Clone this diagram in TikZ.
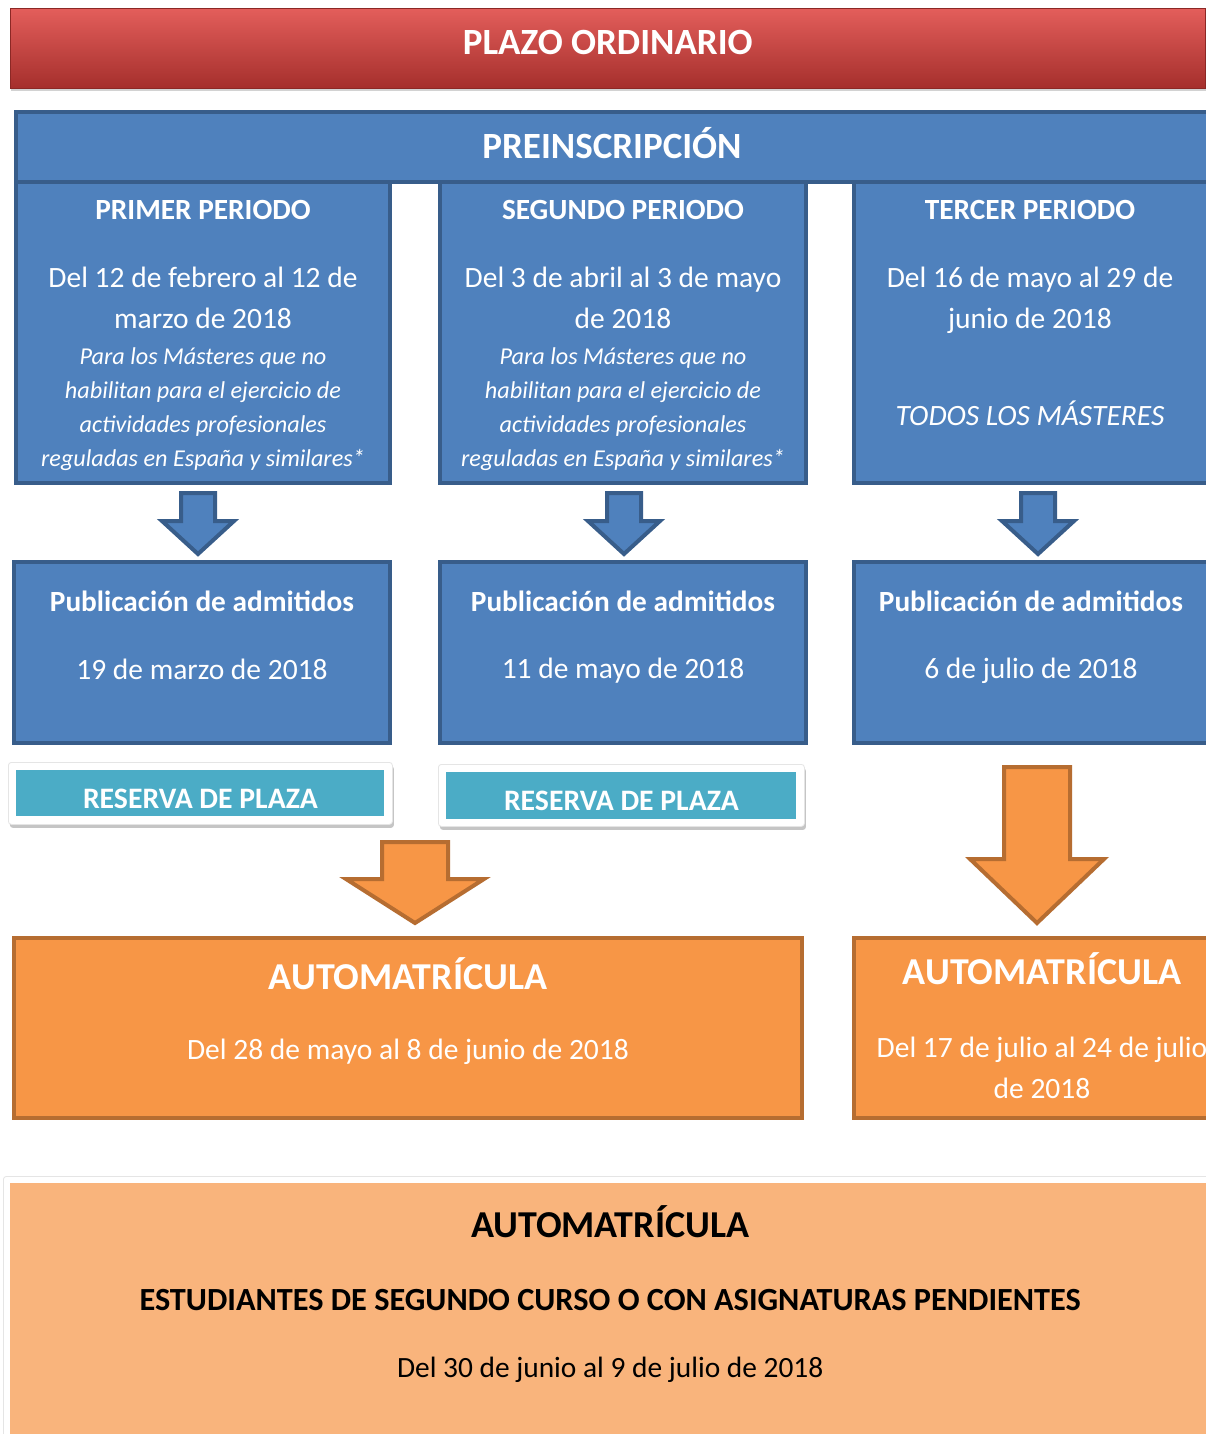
\documentclass[tikz,border=0pt]{standalone}
\usepackage{fontspec}
\setmainfont{Carlito}
\usetikzlibrary{calc, positioning, shadows}
\definecolor{bannerlight}{HTML}{E35E5B}
\definecolor{bannerred}{HTML}{D3423F}
\definecolor{bannerdark}{HTML}{A52F2C}
\definecolor{boxblue}{HTML}{4F81BD}
\definecolor{lineblue}{HTML}{385D8A}
\definecolor{reservefill}{HTML}{4BACC6}
\definecolor{boxorange}{HTML}{F79646}
\definecolor{lineorange}{HTML}{B66D31}
\definecolor{peachfill}{HTML}{F9B47C}
\tikzset{
  bluebox/.style={draw=lineblue, line width=4pt, fill=boxblue, anchor=north west, inner sep=0pt},
  orangebox/.style={draw=lineorange, line width=4pt, fill=boxorange, anchor=north west, inner sep=0pt},
  card/.style={fill=white, draw=black!10, line width=0.8pt, rounded corners=3pt, anchor=north west, inner sep=0pt,
    drop shadow={shadow xshift=1.5pt, shadow yshift=-3.5pt, opacity=0.45}},
  reserve/.style={fill=reservefill, inner sep=0pt},
  reservetext/.style={text=white, font=\fontsize{29.7}{34}\selectfont\bfseries},
  title/.style={text=white, font=\fontsize{29.3}{34}\selectfont\bfseries},
  bigtitle/.style={text=white, font=\fontsize{38}{44}\selectfont\bfseries},
  datetext/.style={text=white, align=center, font=\fontsize{29.5}{41}\selectfont},
  note/.style={text=white, align=center, font=\fontsize{24.2}{34}\selectfont\itshape},
  darktext/.style={text=black, align=center, font=\fontsize{29.4}{41}\selectfont},
  bluearrow/.style={draw=lineblue, line width=4pt, fill=boxblue, line join=miter},
  orangearrow/.style={draw=lineorange, line width=4pt, fill=boxorange, line join=miter}
}
\begin{document}
\begin{tikzpicture}[x=1pt, y=-1pt]
\clip (0,0) rectangle (1206,1434);
\fill[white] (0,0) rectangle (1206,1434);

% banner
\node[anchor=north west, inner sep=0pt, minimum width=1195pt, minimum height=80pt,
  top color=bannerlight, middle color=bannerred, bottom color=bannerdark,
  draw=bannerdark!85!black, line width=0.6pt,
  drop shadow={shadow xshift=1pt, shadow yshift=-3pt, opacity=0.35}] (plazo) at (10,8) {};
\node[title, font=\fontsize{37}{42}\selectfont\bfseries] (plazot) at ($(plazo.north)+(0,34)$) {PLAZO ORDINARIO};

% preinscripcion periods
\node[bluebox, minimum width=374pt, minimum height=301pt] (p1) at (14,180) {};
\node[bluebox, minimum width=366pt, minimum height=301pt] (p2) at (438,180) {};
\node[bluebox, minimum width=356pt, minimum height=301pt] (p3) at (852,180) {};
\node[bluebox, minimum width=1200pt, minimum height=70pt] (pre) at (14,110) {};
\node[title, font=\fontsize{37}{42}\selectfont\bfseries] (pret) at ($(pre.center)+(-4,-4)$) {PREINSCRIPCIÓN};

\node[title] (p1t) at ($(p1.north)+(0,30)$) {PRIMER PERIODO};
\node[datetext] (p1d) at ($(p1.north)+(0,118)$) {Del 12 de febrero al 12 de\\marzo de 2018};
\node[note] (p1n) at ($(p1.north)+(0,229)$) {Para los Másteres que no\\habilitan para el ejercicio de\\actividades profesionales\\reguladas en España y similares*};

\node[title] (p2t) at ($(p2.north)+(0,30)$) {SEGUNDO PERIODO};
\node[datetext] (p2d) at ($(p2.north)+(0,118)$) {Del 3 de abril al 3 de mayo\\de 2018};
\node[note] (p2n) at ($(p2.north)+(0,229)$) {Para los Másteres que no\\habilitan para el ejercicio de\\actividades profesionales\\reguladas en España y similares*};

\node[title] (p3t) at ($(p3.north)+(-2,30)$) {TERCER PERIODO};
\node[datetext] (p3d) at ($(p3.north)+(-2,120)$) {Del 16 de mayo al 29 de\\junio de 2018};
\node[note, font=\fontsize{29.5}{34}\selectfont\itshape] (p3n) at ($(p3.north)+(-2,233)$) {TODOS LOS MÁSTERES};

% publicacion de admitidos
\node[bluebox, minimum width=376pt, minimum height=181pt] (pub1) at (12,560) {};
\node[bluebox, minimum width=366pt, minimum height=181pt] (pub2) at (438,560) {};
\node[bluebox, minimum width=356pt, minimum height=181pt] (pub3) at (852,560) {};

\node[title] (pub1t) at ($(pub1.north)+(0,41)$) {Publicación de admitidos};
\node[datetext] (pub1d) at ($(pub1.north)+(0,109)$) {19 de marzo de 2018};
\node[title] (pub2t) at ($(pub2.north)+(0,41)$) {Publicación de admitidos};
\node[datetext] (pub2d) at ($(pub2.north)+(0,111)$) {11 de mayo de 2018};
\node[title] (pub3t) at ($(pub3.north)+(-1,41)$) {Publicación de admitidos};
\node[datetext] (pub3d) at ($(pub3.north)+(-1,111)$) {6 de julio de 2018};

\foreach \src/\dx in {p1/-5, p2/1, p3/6}
  \draw[bluearrow] ($(\src.south)+(\dx,0)$) ++(-17,8) -- ++(34,0) -- ++(0,28) -- ++(19,0)
    -- ++(-36,33) -- ++(-36,-33) -- ++(19,0) -- cycle;

% reserva de plaza
\node[card, minimum width=384pt, minimum height=62pt] (card1) at (8,762) {};
\node[reserve, minimum width=368pt, minimum height=46pt] (r1) at (card1.center) {};
\node[reservetext] (r1t) at ($(r1.center)+(0,5)$) {RESERVA DE PLAZA};
\node[card, minimum width=366pt, minimum height=62pt] (card2) at (438,764) {};
\node[reserve, minimum width=350pt, minimum height=47pt] (r2) at (card2.center) {};
\node[reservetext] (r2t) at ($(r2.center)+(0,5)$) {RESERVA DE PLAZA};

% automatricula
\node[orangebox, minimum width=788pt, minimum height=180pt] (aut1) at (12,936) {};
\node[bigtitle] (aut1t) at ($(aut1.north)+(0,38)$) {AUTOMATRÍCULA};
\node[datetext] (aut1d) at ($(aut1.north)+(0,116)$) {Del 28 de mayo al 8 de junio de 2018};
\node[orangebox, minimum width=376pt, minimum height=180pt] (aut2) at (852,936) {};
\node[bigtitle] (aut2t) at ($(aut2.north)+(0,33)$) {AUTOMATRÍCULA};
\node[datetext] (aut2d) at ($(aut2.north)+(0,132)$) {Del 17 de julio al 24 de julio\\de 2018};

\draw[orangearrow] (aut1.north) ++(-26,-94) -- ++(66,0) -- ++(0,37) -- ++(36,0)
  -- ++(-69,44) -- ++(-69,-44) -- ++(36,0) -- cycle;
\draw[orangearrow] (aut2.north) ++(-38,-169) -- ++(66,0) -- ++(0,92) -- ++(34,0)
  -- ++(-67,64) -- ++(-67,-64) -- ++(34,0) -- cycle;

% segundo curso
\node[card, minimum width=1230pt, minimum height=300pt] (card3) at (3,1176) {};
\node[fill=peachfill, anchor=north west, inner sep=0pt, minimum width=1200pt, minimum height=260pt] (bot) at (10,1183) {};
\node[darktext, font=\fontsize{38}{44}\selectfont\bfseries] (bott) at ($(bot.north)+(0,39)$) {AUTOMATRÍCULA};
\node[darktext, font=\fontsize{32.3}{41}\selectfont\bfseries] (bots) at ($(bot.north)+(0,117)$) {ESTUDIANTES DE SEGUNDO CURSO O CON ASIGNATURAS PENDIENTES};
\node[darktext] (botd) at ($(bot.north)+(0,187)$) {Del 30 de junio al 9 de julio de 2018};
\end{tikzpicture}
\end{document}
